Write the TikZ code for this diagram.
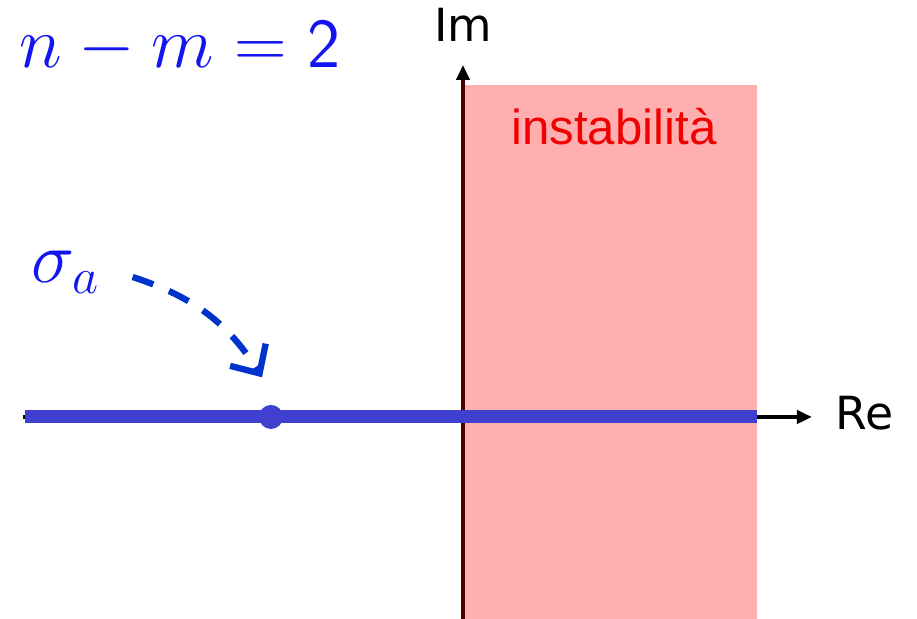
\documentclass[tikz,border=0pt]{standalone}
\usepackage{fontspec}
\newfontfamily\axisfont{DejaVu Sans}
\newfontfamily\labelfont{Liberation Sans}
\usetikzlibrary{arrows.meta,positioning}
\definecolor{pinkzone}{RGB}{255,175,175}
\definecolor{axisred}{RGB}{70,0,0}
\definecolor{locusblue}{RGB}{64,64,208}
\definecolor{arrowblue}{RGB}{0,51,204}
\definecolor{textblue}{RGB}{20,20,240}
\definecolor{textred}{RGB}{240,0,0}
\begin{document}
\begin{tikzpicture}[
  axis/.style={line width=1.1pt,-{Triangle[length=0.15cm,width=0.13cm]}},
  axislabel/.style={font=\axisfont\fontsize{13}{16}\selectfont},
  mathlabel/.style={text=textblue,font=\fontsize{20}{24}\selectfont}
]
\useasboundingbox (-4.63,-2.02) rectangle (4.54,4.17);
% region of instability
\fill[pinkzone] (0,-2.02) rectangle (2.94,3.32);
\node[text=textred,font=\labelfont\fontsize{14}{17}\selectfont] (instab) at (1.51,2.90) {instabilità};
% axes
\coordinate (reL) at (-4.40,0);
\coordinate (reR) at (3.49,0);
\coordinate (imB) at (0,-2.02);
\coordinate (imT) at (0,3.52);
\draw[axis,black] (reL) -- (reR);
\draw[axis,draw=axisred,-{Triangle[length=0.15cm,width=0.13cm,color=black]}] (imB) -- (imT);
\node[axislabel,anchor=west,inner sep=0pt] (re) at (3.72,0.04) {Re};
\node[axislabel] (im) at (0,3.92) {Im};
% root locus on the real axis
\coordinate (locL) at (-4.38,0);
\coordinate (locR) at (2.94,0);
\draw[locusblue,line width=3.7pt] (locL) -- (locR);
\node[circle,fill=locusblue,minimum size=0.24cm,inner sep=0pt] (dot) at (-1.92,0) {};
% labels
\node[mathlabel] (order) at (-2.83,3.70) {$n-m=\mathsf{2}$};
\node[mathlabel] (sigma) at (-3.97,1.45) {$\sigma_a$};
\draw[arrowblue,line width=1.8pt,dash pattern=on 0.22cm off 0.17cm,
      -{Straight Barb[length=0.22cm,width=0.42cm]}]
  ([shift={(0.2,-0.05)}]sigma.east) to[out=-18,in=122] ([shift={(-0.09,0.27)}]dot.north);
\end{tikzpicture}
\end{document}
